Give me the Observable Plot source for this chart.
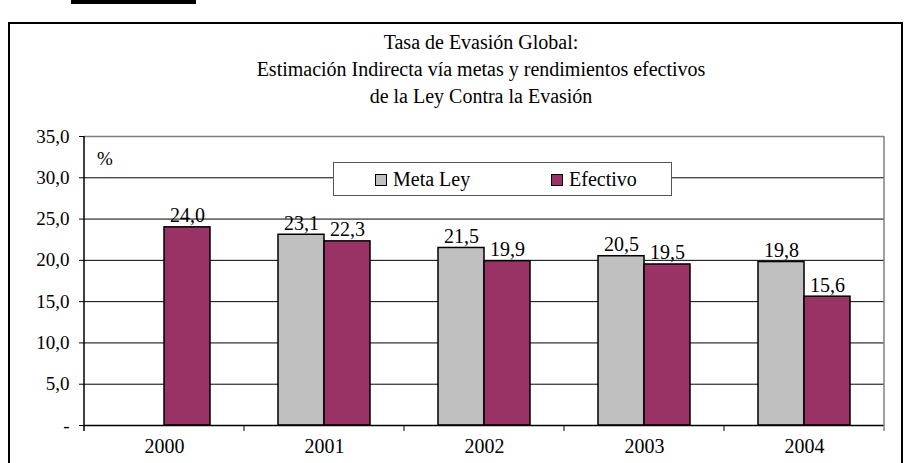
<!DOCTYPE html>
<html>
<head>
<meta charset="utf-8">
<script src="https://cdn.jsdelivr.net/npm/d3@7"></script>
<script src="https://cdn.jsdelivr.net/npm/@observablehq/plot@0.6"></script>
<style>
  html, body { margin: 0; padding: 0; width: 909px; height: 463px; overflow: hidden; background: #fff; }
  body { position: relative; font-family: "Liberation Serif", "Times New Roman", "DejaVu Serif", serif; color: #000; }
  #chart { position: absolute; left: 0; top: 0; }
  .frame { position: absolute; left: 8px; top: 22px; width: 895px; height: 480px; border: 2px solid #000; box-sizing: border-box; }
  .topbar { position: absolute; left: 71px; top: 0; width: 125px; height: 4px; background: #000; }
  .title { position: absolute; left: 0; width: 962px; text-align: center; font-size: 20px; line-height: 27px; top: 29px; }
  .pct { position: absolute; left: 97px; top: 148px; font-size: 19px; }
  .legend { position: absolute; left: 333px; top: 162px; width: 339px; height: 34px; background: #fff; border: 1px solid #555; box-sizing: border-box; font-size: 20px; }
  .legend .item { position: absolute; top: 0; line-height: 32px; white-space: nowrap; }
  .legend .sw { display: inline-block; width: 12px; height: 12px; border: 1px solid #000; box-sizing: border-box; vertical-align: middle; margin-right: 6px; position: relative; top: -1px; }
</style>
</head>
<body>
<div id="chart"></div>
<div class="topbar"></div>
<div class="frame"></div>
<div class="title">Tasa de Evasión Global:<br>Estimación Indirecta vía metas y rendimientos efectivos<br>de la Ley Contra la Evasión</div>
<div class="pct">%</div>
<div class="legend" id="legend"></div>
<script>
const years = ["2000", "2001", "2002", "2003", "2004"];
const series = ["Meta Ley", "Efectivo"];
const metaLey = [null, 23.1, 21.5, 20.5, 19.8];
const efectivo = [24.0, 22.3, 19.9, 19.5, 15.6];
const colors = ["#C0C0C0", "#993366"];
const yTicks = [0, 5, 10, 15, 20, 25, 30, 35];

const fmt = v => v === 0 ? "-" : v.toFixed(1).replace(".", ",");

const rows = [];
years.forEach((y, i) => {
  if (metaLey[i] != null) rows.push({year: y, series: "Meta Ley", value: metaLey[i]});
  if (efectivo[i] != null) rows.push({year: y, series: "Efectivo", value: efectivo[i]});
});

const chart = Plot.plot({
  width: 909,
  height: 463,
  marginLeft: 82,
  marginRight: 23,
  marginTop: 136,
  marginBottom: 38,
  style: {fontFamily: "Liberation Serif, Times New Roman, DejaVu Serif, serif", fontSize: "19px", color: "#000", background: "transparent"},
  fx: {domain: years, padding: 0, tickSize: 0, tickPadding: 13, label: null, axis: "bottom", fontSize: 20},
  x: {domain: series, axis: null, paddingInner: 0, paddingOuter: 0.728},
  y: {domain: [0, 35], ticks: yTicks, tickFormat: fmt, tickSize: 5, tickPadding: 10, label: null},
  color: {domain: series, range: colors},
  marks: [
    Plot.ruleY(yTicks.filter(d => d > 0 && d < 35), {stroke: "#000", strokeWidth: 1}),
    Plot.ruleY([35], {stroke: "#808080", strokeWidth: 1.5}),
    Plot.barY(rows, {fx: "year", x: "series", y: "value", fill: "series", stroke: "#000", strokeWidth: 1.5}),
    Plot.text(rows, {fx: "year", x: "series", y: "value", text: d => fmt(d.value), lineAnchor: "bottom", dy: -5, fontSize: 20}),
    Plot.ruleY([0], {stroke: "#000", strokeWidth: 1.5})
  ]
});
document.getElementById("chart").appendChild(chart);

// Plot-area edges and category boundary ticks, placed with the plot's own scales
const fx = chart.scale("fx");
const ys = chart.scale("y");
const svg = d3.select(chart);
svg.selectAll("[aria-label='fx-axis tick label'] text, [aria-label='fx-axis tick label']").style("font-size", "20px");
const y0 = ys.apply(0), yTop = ys.apply(35);
const bounds = years.map(v => fx.apply(v));
const right = fx.apply(years[years.length - 1]) + fx.bandwidth;
bounds.push(right);
const g = svg.append("g");
g.append("line").attr("x1", bounds[0]).attr("x2", bounds[0]).attr("y1", yTop).attr("y2", y0 + 6).attr("stroke", "#000").attr("stroke-width", 1.5);
g.append("line").attr("x1", right).attr("x2", right).attr("y1", yTop).attr("y2", y0 + 6).attr("stroke", "#808080").attr("stroke-width", 1.5);
bounds.slice(1, -1).forEach(b => {
  g.append("line").attr("x1", b).attr("x2", b).attr("y1", y0).attr("y2", y0 + 6).attr("stroke", "#000").attr("stroke-width", 1);
});

// Legend
const legend = document.getElementById("legend");
const pos = [41, 217];
series.forEach((s, i) => {
  const it = document.createElement("div");
  it.className = "item";
  it.style.left = pos[i] + "px";
  it.innerHTML = `<span class="sw" style="background:${colors[i]}"></span>${s}`;
  legend.appendChild(it);
});
</script>
</body>
</html>
